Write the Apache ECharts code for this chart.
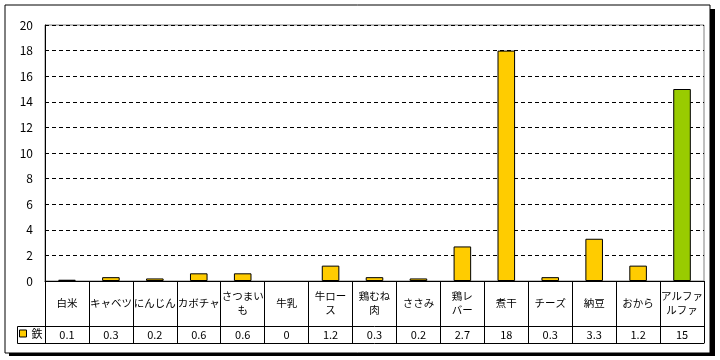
<!DOCTYPE html>
<html><head><meta charset="utf-8">
<script src="https://cdn.jsdelivr.net/npm/echarts@6/dist/echarts.min.js"></script>
<style>html,body{margin:0;padding:0;background:#fff}#c{width:720px;height:360px}</style>
</head><body><div id="c"></div>
<script>
const categories = ['白米','キャベツ','にんじん','カボチャ','さつまい\nも','牛乳','牛ロー\nス','鶏むね\n肉','ささみ','鶏レ\nバー','煮干','チーズ','納豆','おから','アルファ\nルファ'];
const ironValues = [0.1,0.3,0.2,0.6,0.6,0,1.2,0.3,0.2,2.7,18,0.3,3.3,1.2,15];
const tableValues = ['0.1','0.3','0.2','0.6','0.6','0','1.2','0.3','0.2','2.7','18','0.3','3.3','1.2','15'];
const seriesName = '鉄';
const barColors = ['#FFCC00','#FFCC00','#FFCC00','#FFCC00','#FFCC00','#FFCC00','#FFCC00','#FFCC00','#FFCC00','#FFCC00','#FFCC00','#FFCC00','#FFCC00','#FFCC00','#99CC00'];

const FONT = '"Noto Sans CJK JP", sans-serif';
const chart = echarts.init(document.getElementById('c'), null, {renderer:'canvas'});
chart.setOption({
  animation:false,
  backgroundColor:'#fff',
  textStyle:{fontFamily:FONT,color:'#000'},
  graphic:[
    {type:'rect',z:-10,shape:{x:9,y:9,width:706,height:347},style:{fill:'#000'}},
    {type:'rect',z:-9,shape:{x:5,y:5,width:705,height:348},style:{fill:'#fff',stroke:'#000',lineWidth:1}},
    {type:'rect',z:5,shape:{x:17.5,y:326.5,width:28,height:17},style:{fill:'none',stroke:'#000',lineWidth:1}}
  ],
  legend:{
    data:[seriesName],left:19,top:328,itemWidth:7,itemHeight:7,itemGap:2,icon:'rect',
    textStyle:{fontSize:11,fontFamily:FONT,color:'#000'},padding:0,
    itemStyle:{color:'#FFCC00',borderColor:'#000',borderWidth:1}
  },
  grid:{left:45,top:25,right:16,bottom:79,show:true,borderColor:'#808080',borderWidth:1,backgroundColor:'#fff'},
  xAxis:[
    {type:'category',data:categories,position:'bottom',
     axisLine:{show:true,lineStyle:{color:'#000',width:1}},
     axisTick:{show:true,length:45,lineStyle:{color:'#000'}},
     axisLabel:{interval:0,fontSize:10.5,lineHeight:14,color:'#000',verticalAlign:'middle',margin:22,fontFamily:FONT}
    },
    {type:'category',data:tableValues,position:'bottom',offset:45,
     axisLine:{show:true,lineStyle:{color:'#000',width:1}},
     axisTick:{show:true,length:17,lineStyle:{color:'#000'}},
     axisLabel:{interval:0,fontSize:11,color:'#000',verticalAlign:'middle',margin:8.5,fontFamily:FONT}
    },
    {type:'category',data:tableValues,position:'bottom',offset:62,
     axisLine:{show:true,lineStyle:{color:'#000',width:1}},
     axisTick:{show:false},axisLabel:{show:false}
    }
  ],
  yAxis:{type:'value',min:0,max:20,interval:2,
    axisLine:{show:true,lineStyle:{color:'#000'}},
    axisTick:{show:false},
    axisLabel:{fontSize:12,color:'#000',margin:12,fontFamily:FONT},
    splitLine:{show:true,lineStyle:{color:'#000',type:[4,3],width:1}}
  },
  series:[{
    name:seriesName,type:'bar',xAxisIndex:0,barWidth:'40%',
    data:ironValues.map((v,i)=>({value:v,itemStyle:{color:barColors[i],borderWidth:v===0?0:1}})),
    itemStyle:{color:'#FFCC00',borderColor:'#000',borderWidth:1}
  }]
});
</script></body></html>
